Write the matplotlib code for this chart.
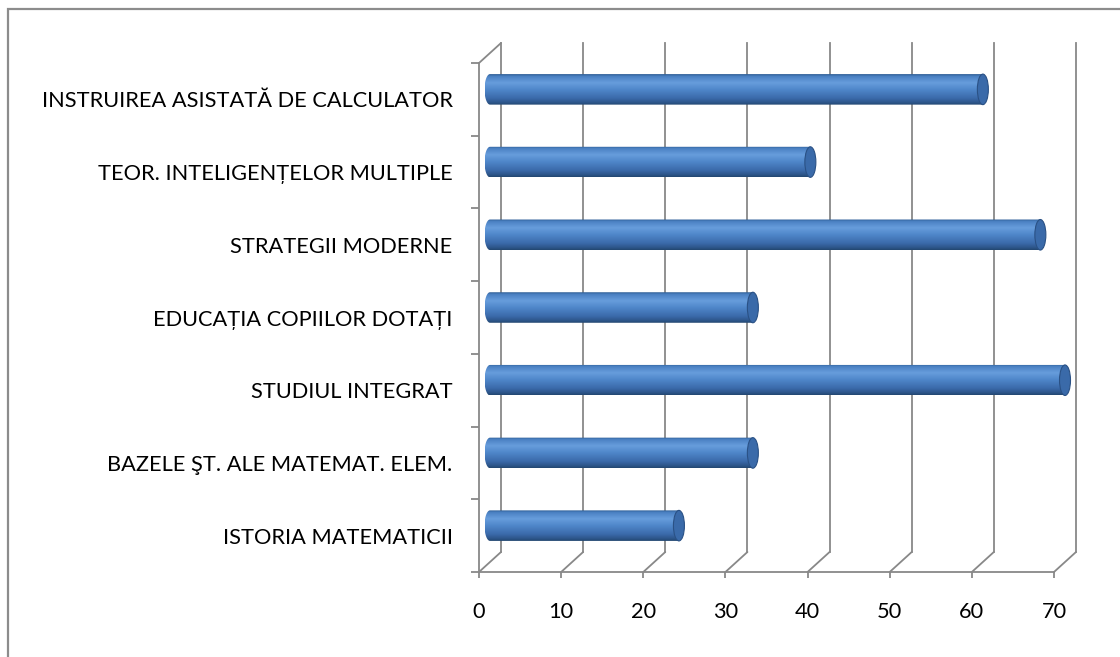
import numpy as np
import matplotlib
matplotlib.use("Agg")
import matplotlib.pyplot as plt
from matplotlib.patches import Ellipse, Rectangle, PathPatch, ConnectionPatch
from matplotlib.path import Path
from matplotlib.transforms import ScaledTranslation
from matplotlib.colors import LinearSegmentedColormap

# ---- data ----
categories = [
    "ISTORIA MATEMATICII",
    "BAZELE ŞT. ALE MATEMAT. ELEM.",
    "STUDIUL INTEGRAT",
    "EDUCAȚIA COPIILOR DOTAȚI",
    "STRATEGII MODERNE",
    "TEOR. INTELIGENȚELOR MULTIPLE",
    "INSTRUIREA ASISTATĂ DE CALCULATOR",
]
values = [23, 32, 70, 32, 67, 39, 60]
x_ticks = [0, 10, 20, 30, 40, 50, 60, 70]

FONT = ["Lato", "DejaVu Sans"]
GRID = "#888888"

W, H, DPI = 1120, 657, 100
fig = plt.figure(figsize=(W / DPI, H / DPI), dpi=DPI)
fig.patch.set_facecolor("white")

# front plane of the pseudo-3D chart
x0, x1 = 479, 1054
y_top, y_bot = 63, 572
ax = fig.add_axes([x0 / W, (H - y_bot) / H, (x1 - x0) / W, (y_bot - y_top) / H])
ax.set_facecolor("none")

n = len(categories)
ax.set_xlim(x_ticks[0], x_ticks[-1])
ax.set_ylim(-0.5, n - 0.5)

# depth offsets (pixels): back wall and middle plane of bars
dx, dy = 22, 20
back = ax.transData + ScaledTranslation(dx / DPI, dy / DPI, fig.dpi_scale_trans)
mid = ax.transData + ScaledTranslation(dx / 2 / DPI, dy / 2 / DPI, fig.dpi_scale_trans)

lw = 1.3
# back wall gridlines
for xv in x_ticks:
    ax.plot([xv, xv], [-0.5, n - 0.5], color=GRID, lw=lw, transform=back,
            clip_on=False, zorder=1)
# floor diagonals
for xv in x_ticks:
    cp = ConnectionPatch((xv, -0.5), (xv, -0.5), coordsA=ax.transData,
                         coordsB=back, color=GRID, lw=lw, zorder=1)
    fig.add_artist(cp)
# left wall top diagonal
cp = ConnectionPatch((0, n - 0.5), (0, n - 0.5), coordsA=ax.transData,
                     coordsB=back, color=GRID, lw=lw, zorder=1)
fig.add_artist(cp)

# spines
for s in ["top", "right"]:
    ax.spines[s].set_visible(False)
for s in ["left", "bottom"]:
    ax.spines[s].set_color(GRID)
    ax.spines[s].set_linewidth(lw)

# ticks
ax.set_xticks(x_ticks)
ax.set_xticklabels([str(t) for t in x_ticks], fontfamily=FONT, fontsize=15.7)
ax.tick_params(axis="x", length=6 * 0.72, width=lw, color=GRID, pad=17,
               labelcolor="black")
ax.set_yticks(range(n))
ax.set_yticklabels(categories, fontfamily=FONT, fontsize=15.7)
ax.tick_params(axis="y", which="major", length=0, pad=19, labelcolor="black")
ax.set_yticks(np.arange(-0.5, n, 1.0), minor=True)
ax.tick_params(axis="y", which="minor", length=8 * 0.72, width=lw, color=GRID)

# cylinder bars
cmap = LinearSegmentedColormap.from_list("cyl", [
    (0.00, "#2c5a90"),
    (0.07, "#4a80c2"),
    (0.28, "#679ddc"),
    (0.50, "#4f87ca"),
    (0.78, "#3b6aaa"),
    (0.93, "#2c5488"),
    (1.00, "#22466f"),
])
grad = np.linspace(0, 1, 256).reshape(-1, 1)
bar_h = 0.42
cap_w = 11 / ((x1 - x0) / (x_ticks[-1] - x_ticks[0]))  # ~11 px in data units

for i, v in enumerate(values):
    yc = i
    t = np.linspace(np.pi / 2, 3 * np.pi / 2, 40)
    ex = (cap_w / 2) * np.cos(t)
    ey = yc + (bar_h / 2) * np.sin(t)
    verts = list(zip(ex, ey)) + [(v, yc - bar_h / 2), (v, yc + bar_h / 2), (ex[0], ey[0])]
    codes = [Path.MOVETO] + [Path.LINETO] * (len(verts) - 2) + [Path.CLOSEPOLY]
    body = PathPatch(Path(verts, codes), transform=mid, facecolor="none",
                     edgecolor="none")
    ax.add_patch(body)
    body.set_clip_on(False)
    im = ax.imshow(grad, cmap=cmap, aspect="auto", interpolation="bilinear",
                   extent=(-cap_w / 2, v, yc - bar_h / 2, yc + bar_h / 2),
                   origin="upper", transform=mid, zorder=3)
    im.set_clip_path(body)
    im.set_clip_box(fig.bbox)
    cap = Ellipse((v, yc), cap_w, bar_h, transform=mid, facecolor="#3a6aa9",
                  edgecolor="#2a5185", lw=0.8, zorder=4, clip_on=False)
    ax.add_patch(cap)

ax.set_xlim(x_ticks[0], x_ticks[-1])
ax.set_ylim(-0.5, n - 0.5)

# outer chart border
fig.add_artist(Rectangle((7.5 / W, -0.1), 1.2, 1.1 - 8.5 / H,
                         transform=fig.transFigure, fill=False,
                         edgecolor="#8c8c8c", lw=1.6))

fig.savefig("out.png", dpi=DPI, facecolor="white")
